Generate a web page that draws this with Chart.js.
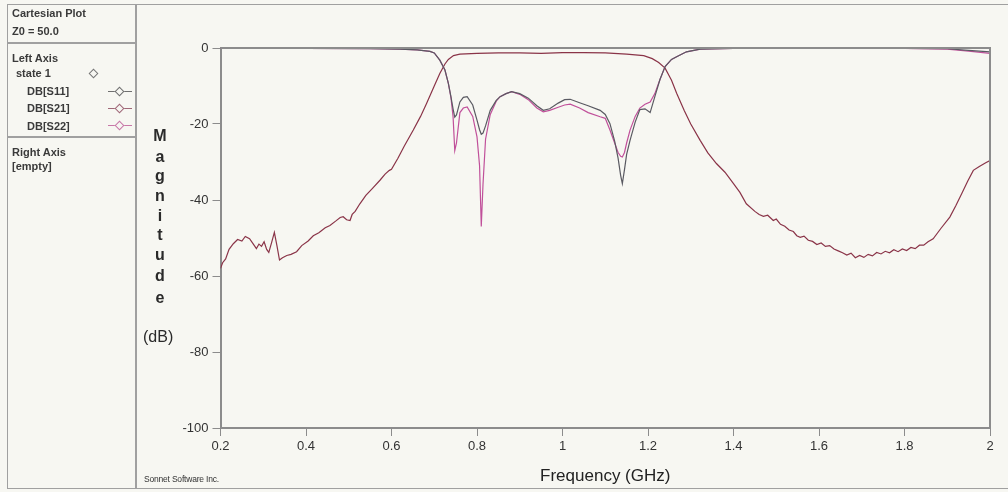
<!DOCTYPE html>
<html>
<head>
<meta charset="utf-8">
<script src="https://cdn.jsdelivr.net/npm/chart.js@4/dist/chart.umd.min.js"></script>
<style>
  html, body { margin: 0; padding: 0; background: #f7f7f2; }
  body { width: 1008px; height: 492px; position: relative; overflow: hidden;
         font-family: "Liberation Sans", Arial, sans-serif; color: #333; }
  #chart { position: absolute; left: 0; top: 0; }
  .frame { position: absolute; left: 7px; top: 4px; width: 1010px; height: 485px;
           border: 1px solid #a0a0a0; box-sizing: border-box; }
  .panel { position: absolute; left: 7px; top: 4px; width: 130px; height: 485px;
           border-right: 2px solid #a0a0a0; box-sizing: border-box; }
  .sep { position: absolute; left: 7px; width: 130px; height: 0; border-top: 2px solid #a0a0a0; }
  .t { position: absolute; font-size: 11px; font-weight: bold; color: #3a3a3a; line-height: 12px; white-space: nowrap; }
  .sym { position: absolute; height: 1px; width: 24px; }
  .dia { position: absolute; width: 5px; height: 5px; border: 1px solid #777; background: #f7f7f2;
         transform: rotate(45deg); }
  .ylab { position: absolute; left: 151px; width: 18px; text-align: center; font-size: 16px;
          font-weight: bold; color: #2a2a2a; line-height: 20px; }
  .db { position: absolute; left: 143px; top: 328px; font-size: 16px; color: #2a2a2a; }
  .sonnet { position: absolute; left: 144px; top: 474px; font-size: 8.5px; color: #333; letter-spacing: -0.2px; }
</style>
</head>
<body>
<canvas id="chart" width="1008" height="492"></canvas>
<div class="frame"></div>
<div class="panel"></div>
<div class="sep" style="top:42px"></div>
<div class="sep" style="top:136px"></div>
<div class="t" style="left:12px;top:7px">Cartesian Plot</div>
<div class="t" style="left:12px;top:25px">Z0 = 50.0</div>
<div class="t" style="left:12px;top:52px">Left Axis</div>
<div class="t" style="left:16px;top:67px">state 1</div>
<div class="dia" style="left:90px;top:70px"></div>
<div class="t" style="left:27px;top:85px">DB[S11]</div>
<div class="t" style="left:27px;top:102px">DB[S21]</div>
<div class="t" style="left:27px;top:120px">DB[S22]</div>
<div class="sym" style="left:108px;top:91px;background:#707070"></div>
<div class="dia" style="left:116px;top:88px;border-color:#707070"></div>
<div class="sym" style="left:108px;top:108px;background:#a06878"></div>
<div class="dia" style="left:116px;top:105px;border-color:#a06878"></div>
<div class="sym" style="left:108px;top:125px;background:#c878a8"></div>
<div class="dia" style="left:116px;top:122px;border-color:#c878a8"></div>
<div class="t" style="left:12px;top:146px">Right Axis</div>
<div class="t" style="left:12px;top:160px">[empty]</div>
<div class="ylab" style="top:126px">M</div>
<div class="ylab" style="top:147px">a</div>
<div class="ylab" style="top:166px">g</div>
<div class="ylab" style="top:186px">n</div>
<div class="ylab" style="top:206px">i</div>
<div class="ylab" style="top:225px">t</div>
<div class="ylab" style="top:245px">u</div>
<div class="ylab" style="top:266px">d</div>
<div class="ylab" style="top:288px">e</div>
<div class="db">(dB)</div>
<div class="sonnet">Sonnet Software Inc.</div>
<script>
// Tick values
const xTicks = [0.2, 0.4, 0.6, 0.8, 1, 1.2, 1.4, 1.6, 1.8, 2]
const yTicks = [0, -20, -40, -60, -80, -100]

// DB[S21] (transmission), GHz / dB
const s21Freq = [
  0.200, 0.205, 0.212, 0.220, 0.230, 0.240, 0.250, 0.258, 0.268, 0.276,
  0.284, 0.290, 0.296, 0.302, 0.308, 0.313, 0.320, 0.326, 0.332, 0.338,
  0.345, 0.355, 0.365, 0.378, 0.390, 0.405, 0.417, 0.430, 0.445, 0.456,
  0.470, 0.480, 0.487, 0.495, 0.503, 0.508, 0.515, 0.526, 0.540, 0.555,
  0.573, 0.585, 0.595, 0.600, 0.615, 0.630, 0.651, 0.668, 0.682, 0.700,
  0.713, 0.725, 0.733, 0.745, 0.760, 0.800, 0.850, 0.900, 0.950, 1.000,
  1.050, 1.100, 1.150, 1.190, 1.210, 1.225, 1.240, 1.255, 1.267, 1.285,
  1.300, 1.322, 1.340, 1.360, 1.380, 1.400, 1.415, 1.430, 1.450, 1.460,
  1.470, 1.480, 1.493, 1.500, 1.510, 1.520, 1.530, 1.540, 1.548, 1.556,
  1.565, 1.575, 1.585, 1.595, 1.605, 1.615, 1.625, 1.635, 1.645, 1.655,
  1.665, 1.675, 1.685, 1.695, 1.705, 1.715, 1.725, 1.735, 1.745, 1.755,
  1.765, 1.775, 1.785, 1.795, 1.805, 1.815, 1.825, 1.835, 1.845, 1.855,
  1.867, 1.885, 1.906, 1.920, 1.934, 1.948, 1.961, 1.975, 1.990, 2.000
]
const s21Db = [
  -58.0, -56.5, -55.5, -53.0, -51.5, -50.4, -50.8, -49.6, -50.2, -51.5,
  -52.8, -51.6, -52.2, -51.0, -53.0, -53.8, -51.0, -48.5, -52.0, -55.8,
  -55.2, -54.6, -54.3, -53.6, -52.0, -50.8, -49.4, -48.6, -47.3, -46.7,
  -45.5, -44.6, -44.4, -45.2, -45.4, -43.8, -43.0, -41.0, -38.8, -37.0,
  -34.8, -33.2, -32.2, -31.9, -29.0, -25.8, -21.6, -18.0, -14.6, -10.0,
  -6.7, -4.2, -3.0, -2.0, -1.6, -1.4, -1.3, -1.3, -1.4, -1.2,
  -1.2, -1.3, -1.6, -2.0, -2.8, -3.8, -5.3, -8.5, -11.9, -16.5,
  -20.0, -24.3, -27.6, -30.4, -32.7, -35.7, -38.0, -41.0, -43.0, -43.8,
  -44.3, -44.0, -45.4, -45.0, -46.4, -46.9, -47.9, -48.3, -49.4, -49.8,
  -49.5, -50.6, -50.9, -51.7, -51.3, -52.2, -52.0, -52.9, -53.4, -53.9,
  -54.5, -54.0, -55.2, -54.6, -55.1, -54.3, -54.7, -53.8, -54.2, -53.5,
  -53.9, -53.1, -53.6, -52.9, -53.3, -52.5, -52.8, -51.9, -51.9, -51.0,
  -50.2, -47.5, -44.5, -41.5, -38.3, -35.0, -32.2, -31.2, -30.2, -29.6
]

// DB[S11] and DB[S22] (reflection), GHz / dB
const reflFreq = [
  0.200, 0.400, 0.550, 0.620, 0.660, 0.690, 0.700, 0.713, 0.725, 0.733,
  0.739, 0.744, 0.748, 0.752, 0.760, 0.768, 0.777, 0.790, 0.800, 0.806,
  0.810, 0.814, 0.820, 0.831, 0.845, 0.854, 0.868, 0.881, 0.900, 0.920,
  0.940, 0.955, 0.970, 0.990, 1.005, 1.018, 1.040, 1.060, 1.088, 1.100,
  1.111, 1.122, 1.130, 1.136, 1.140, 1.145, 1.150, 1.158, 1.170, 1.181,
  1.193, 1.205, 1.216, 1.228, 1.240, 1.255, 1.267, 1.290, 1.322, 1.400,
  1.600, 1.800, 1.900, 1.950, 2.000
]
const s11Db = [
  -0.1, -0.1, -0.2, -0.3, -0.5, -0.9, -1.3, -3.2, -5.8, -9.3,
  -12.8, -16.0, -18.2, -17.6, -14.2, -13.0, -12.8, -15.0, -19.0, -21.5,
  -22.7, -22.4, -20.5, -16.4, -13.8, -12.8, -12.0, -11.5, -12.0, -13.2,
  -15.2, -16.4, -16.0, -14.5, -13.6, -13.5, -14.4, -15.2, -16.4, -17.5,
  -19.9, -24.5, -29.0, -33.5, -35.7, -32.0, -28.0, -24.3, -19.5, -16.2,
  -16.0, -17.0, -12.8, -8.3, -4.9, -3.0, -2.3, -1.0, -0.3, -0.1,
  -0.1, -0.1, -0.2, -0.6, -1.0
]
const s22Db = [
  -0.1, -0.1, -0.2, -0.3, -0.5, -0.9, -1.3, -3.2, -5.8, -9.3,
  -13.0, -18.0, -27.0, -25.0, -17.0, -15.8, -15.5, -18.0, -23.4, -31.0,
  -47.0, -36.0, -24.0, -17.5, -14.0, -12.8, -12.0, -11.5, -12.2, -13.6,
  -15.8, -16.8, -16.4, -15.6, -15.0, -14.8, -15.8, -17.0, -18.1, -18.5,
  -21.6, -25.0, -27.5, -28.5, -28.7, -27.5, -25.0, -21.6, -18.0, -15.8,
  -14.8, -14.2, -12.0, -8.3, -4.9, -3.0, -2.3, -1.0, -0.3, -0.1,
  -0.1, -0.1, -0.3, -0.8, -1.4
]

const toPoints = (xs, ys) => xs.map((x, i) => ({ x, y: ys[i] }))

// grey box round the plot area
const plotFrame = {
  id: 'plotFrame',
  afterDatasetsDraw(chart) {
    const { ctx, chartArea: a } = chart
    ctx.save()
    ctx.strokeStyle = '#8c8c8c'
    ctx.lineWidth = 2
    ctx.beginPath()
    ctx.moveTo(a.left, a.top)
    ctx.lineTo(a.right, a.top)
    ctx.lineTo(a.right, a.bottom)
    ctx.stroke()
    ctx.restore()
  }
}

new Chart(document.getElementById('chart'), {
  type: 'line',
  data: {
    datasets: [
      { label: 'DB[S11]', data: toPoints(reflFreq, s11Db), borderColor: '#5a5a62' },
      { label: 'DB[S22]', data: toPoints(reflFreq, s22Db), borderColor: '#c0509a' },
      { label: 'DB[S21]', data: toPoints(s21Freq, s21Db), borderColor: '#8a3448' }
    ].map((d) => ({ ...d, borderWidth: 1.2, pointRadius: 0, tension: 0, fill: false }))
  },
  options: {
    responsive: false,
    animation: false,
    devicePixelRatio: 1,
    layout: { padding: { left: 137, right: 18, top: 48, bottom: 0 } },
    scales: {
      x: {
        type: 'linear',
        min: 0.2,
        max: 2,
        afterBuildTicks: (s) => { s.ticks = xTicks.map((v) => ({ value: v })) },
        afterFit: (s) => { s.height = 64 },
        ticks: {
          callback: (v) => String(v),
          font: { family: 'Liberation Sans', size: 13 },
          color: '#333',
          padding: 3,
          maxRotation: 0
        },
        grid: { drawOnChartArea: false, tickLength: 8, tickColor: '#8c8c8c', tickWidth: 1 },
        border: { color: '#8c8c8c', width: 2 },
        title: {
          display: true,
          text: 'Frequency (GHz)',
          font: { family: 'Liberation Sans', size: 17 },
          color: '#222',
          padding: { top: 4, bottom: 5 }
        }
      },
      y: {
        min: -100,
        max: 0,
        afterBuildTicks: (s) => { s.ticks = yTicks.map((v) => ({ value: v })) },
        afterFit: (s) => { s.width = 83.5 },
        ticks: {
          callback: (v) => String(v),
          font: { family: 'Liberation Sans', size: 13 },
          color: '#333',
          padding: 4
        },
        grid: { drawOnChartArea: false, tickLength: 8, tickColor: '#8c8c8c', tickWidth: 1 },
        border: { color: '#8c8c8c', width: 2 }
      }
    },
    plugins: {
      legend: { display: false },
      tooltip: { enabled: false }
    }
  },
  plugins: [plotFrame]
})
</script>
</body>
</html>
